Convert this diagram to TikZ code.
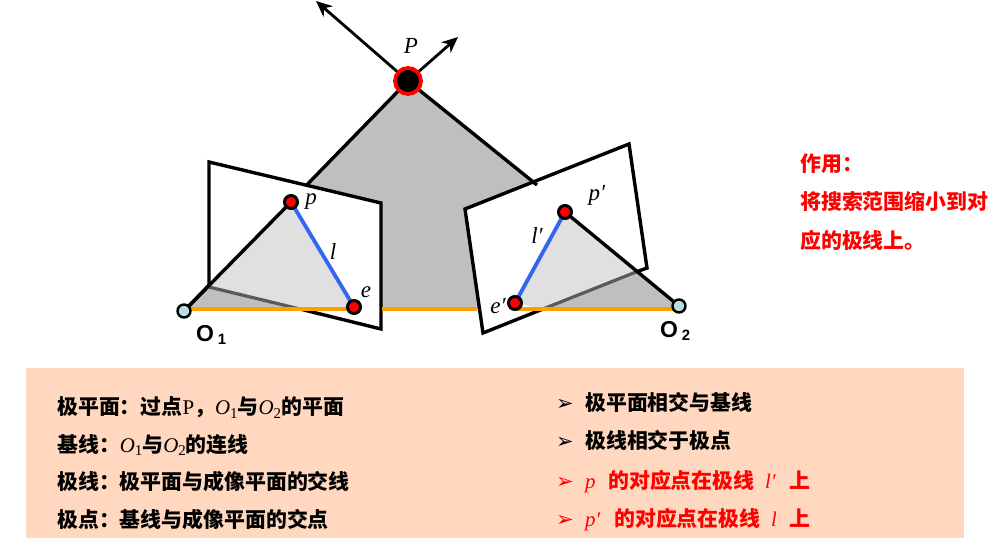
\documentclass[tikz,border=0pt]{standalone}
\usepackage{fontspec}
\usetikzlibrary{arrows.meta}
\newfontfamily\cjk{Noto Sans CJK SC}
\newfontfamily\arial{Liberation Sans}
\newfontfamily\dejavu{DejaVu Sans}
\newfontfamily\tnr{Liberation Serif}
\definecolor{gA}{HTML}{BFBFBF}
\definecolor{gB}{HTML}{E0E0E0}
\definecolor{gC}{HTML}{595959}
\definecolor{peach}{HTML}{FFD8BF}
\definecolor{orangeL}{HTML}{FF9E00}
\definecolor{blueL}{HTML}{3366F0}
\definecolor{teal0}{HTML}{B7DEE0}
\newcommand{\zh}[1]{{\cjk\bfseries #1}}
\newcommand{\mi}[1]{{\tnr\itshape #1}}
\newcommand{\osub}[1]{\mi{O}\raisebox{-4pt}{\tnr\fontsize{15}{16}\selectfont #1}}
\tikzset{
  x=1pt,y=-1pt,
  plane/.style={draw=black,line width=3.4pt,line join=miter},
  ray/.style={draw=black,line width=3.4pt},
  arrowray/.style={draw=black,line width=2.8pt,-{Stealth[length=16pt,width=14pt,inset=5pt]}},
  base/.style={draw=orangeL,line width=3.2pt},
  epi/.style={draw=blueL,line width=3.8pt},
  trace/.style={draw=gC,line width=3.2pt},
  dotp/.style={circle,draw=black,fill=red,line width=3pt,minimum size=13pt,inner sep=0pt},
  doto/.style={circle,draw=black,fill=teal0,line width=2.4pt,minimum size=13pt,inner sep=0pt},
  dotP/.style={circle,draw=red,fill=black,line width=3.8pt,minimum size=26pt,inner sep=0pt},
  lab/.style={inner sep=0pt,font=\tnr\itshape\fontsize{23}{26}\selectfont},
  cam/.style={inner sep=0pt,font=\arial\bfseries\fontsize{23}{26}\selectfont},
  txt/.style={anchor=base west,inner sep=0pt,font=\fontsize{20.9}{25}\selectfont},
  redtxt/.style={txt,text=red},
  bul/.style={anchor=base west,inner sep=0pt,font=\dejavu\fontsize{21}{24}\selectfont}
}
\begin{document}
\begin{tikzpicture}
\useasboundingbox (0,0) rectangle (994,545);
\coordinate (Pc) at (408,81);
\coordinate (O1c) at (184,311);
\coordinate (O2c) at (679,306);
\coordinate (pc) at (291,202);
\coordinate (ec) at (354,307);
\coordinate (ppc) at (565,212);
\coordinate (epc) at (515,303);
\coordinate (A1) at (209,162);
\coordinate (A2) at (381,203);
\coordinate (A3) at (381,329);
\coordinate (A4) at (209,287);
\coordinate (B1) at (465,209);
\coordinate (B2) at (629,144);
\coordinate (B3) at (647,268);
\coordinate (B4) at (483,333);
\coordinate (L1) at (300,309);
\coordinate (R1) at (543,309);
\coordinate (R2) at (636,272);
\coordinate (G1) at (382,309);
\coordinate (G2) at (477,309);
\coordinate (T1) at (316,1);
\coordinate (T2) at (458,37);
\coordinate (U1) at (537,185);
% reference plane
\fill[gA] (Pc) -- (184,309) -- (679,309) -- (U1) -- cycle;
\draw[ray] (Pc) -- (O1c);
\draw[arrowray] (Pc) -- (T1);
\draw[arrowray] (Pc) -- (T2);
% image planes
\fill[white] (A1) -- (A2) -- (A3) -- (A4) -- cycle;
\fill[white] (B1) -- (B2) -- (B3) -- (B4) -- cycle;
\fill[gB] (pc) -- (A4) -- (L1) -- (ec) -- cycle;
\fill[gB] (ppc) -- (epc) -- (R1) -- (R2) -- cycle;
\draw[ray] (Pc) -- (U1);
\draw[plane] (A4) -- (A1) -- (A2) -- (A3) -- (L1);
\draw[plane] (R1) -- (B4) -- (B1) -- (B2) -- (B3) -- (R2);
\draw[trace] (A4) -- (L1);
\draw[trace] (R1) -- (R2);
\draw[ray] (pc) -- (O1c);
\draw[ray] (ppc) -- (O2c);
\draw[base] (184,309) -- (354,309);
\draw[base] (G1) -- (G2);
\draw[base] (515,309) -- (679,309);
\draw[epi] (pc) -- (ec);
\draw[epi] (ppc) -- (epc);
\node[dotP] (P) at (Pc) {};
\node[dotp] (p) at (pc) {};
\node[dotp] (e) at (ec) {};
\node[dotp] (pp) at (ppc) {};
\node[dotp] (ep) at (epc) {};
\node[doto] (O1) at (O1c) {};
\node[doto] (O2) at (O2c) {};
\node[lab] (lP) at (411,46) {P};
\node[lab] (lp) at (311,202) {p};
\node[lab] (ll) at (333,252) {l};
\node[lab] (le) at (366,292) {e};
\node[lab] (lpp) at (597,195) {p′};
\node[lab] (llp) at (537,236) {l′};
\node[lab] (lep) at (498,306) {e′};
\node[cam,anchor=base west] (lO1) at (196,342) {O\,\raisebox{-3pt}{\fontsize{15}{16}\selectfont 1}};
\node[cam,anchor=base west] (lO2) at (660,338) {O\,\raisebox{-3pt}{\fontsize{15}{16}\selectfont 2}};
% side note
\node[redtxt] (n1) at (800,172) {\zh{作用：}};
\node[redtxt] (n2) at (800,210) {\zh{将搜索范围缩小到对}};
\node[redtxt] (n3) at (800,249) {\zh{应的极线上。}};
% panel
\fill[peach] (26,368) rectangle (964,538);
\node[txt] (t1) at (57,414) {\zh{极平面：过点}{\tnr P}\zh{，}\osub{1}\zh{与}\osub{2}\zh{的平面}};
\node[txt] (t2) at (57,452) {\zh{基线：}\osub{1}\zh{与}\osub{2}\zh{的连线}};
\node[txt] (t3) at (57,489) {\zh{极线：极平面与成像平面的交线}};
\node[txt] (t4) at (57,527) {\zh{极点：基线与成像平面的交点}};
\node[bul] (b1) at (556,410) {➢};
\node[bul] (b2) at (556,449) {➢};
\node[bul,text=red] (b3) at (556,488) {➢};
\node[bul,text=red] (b4) at (556,526) {➢};
\node[txt] (r1) at (585,410) {\zh{极平面相交与基线}};
\node[txt] (r2) at (585,449) {\zh{极线相交于极点}};
\node[redtxt] (r3a) at (585,488) {\mi{p}};
\node[redtxt] (r3b) at (608,488) {\zh{的对应点在极线}};
\node[redtxt] (r3c) at (765,488) {\mi{l′}};
\node[redtxt] (r3d) at (789,488) {\zh{上}};
\node[redtxt] (r4a) at (585,526) {\mi{p′}};
\node[redtxt] (r4b) at (614,526) {\zh{的对应点在极线}};
\node[redtxt] (r4c) at (771,526) {\mi{l}};
\node[redtxt] (r4d) at (789,526) {\zh{上}};
\end{tikzpicture}
\end{document}
